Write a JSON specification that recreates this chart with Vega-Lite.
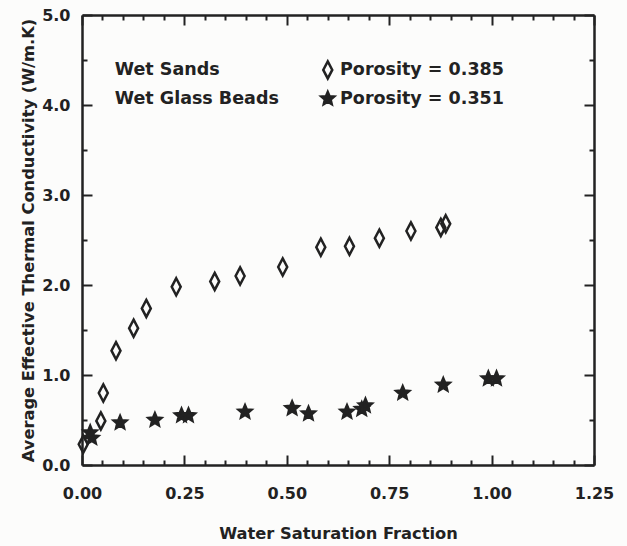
{
  "$schema": "https://vega.github.io/schema/vega-lite/v6.json",
  "width": 512,
  "height": 450,
  "autosize": {"type": "none"},
  "padding": {"left": 82, "top": 15, "right": 33, "bottom": 81},
  "background": "#fcfcfb",
  "config": {
    "view": {"stroke": null},
    "font": "DejaVu Sans",
    "axis": {
      "domainColor": "#222", "domainWidth": 2.5, "tickColor": "#222", "tickWidth": 2,
      "labelFont": "DejaVu Sans", "labelFontWeight": "bold", "labelFontSize": 16, "labelColor": "#222",
      "titleFont": "DejaVu Sans", "titleFontWeight": "bold", "titleFontSize": 16.3, "titleColor": "#222",
      "grid": false, "labelOverlap": false, "labelFlush": false
    }
  },
  "datasets": {
    "points": [
      {"material": "Wet Sands", "saturation": 0.003, "conductivity": 0.23},
      {"material": "Wet Sands", "saturation": 0.046, "conductivity": 0.49},
      {"material": "Wet Sands", "saturation": 0.052, "conductivity": 0.80},
      {"material": "Wet Sands", "saturation": 0.083, "conductivity": 1.27},
      {"material": "Wet Sands", "saturation": 0.126, "conductivity": 1.52},
      {"material": "Wet Sands", "saturation": 0.157, "conductivity": 1.74},
      {"material": "Wet Sands", "saturation": 0.23, "conductivity": 1.98},
      {"material": "Wet Sands", "saturation": 0.324, "conductivity": 2.04},
      {"material": "Wet Sands", "saturation": 0.386, "conductivity": 2.10},
      {"material": "Wet Sands", "saturation": 0.49, "conductivity": 2.20},
      {"material": "Wet Sands", "saturation": 0.583, "conductivity": 2.42},
      {"material": "Wet Sands", "saturation": 0.653, "conductivity": 2.43},
      {"material": "Wet Sands", "saturation": 0.726, "conductivity": 2.52},
      {"material": "Wet Sands", "saturation": 0.803, "conductivity": 2.60},
      {"material": "Wet Sands", "saturation": 0.876, "conductivity": 2.64},
      {"material": "Wet Sands", "saturation": 0.888, "conductivity": 2.68},
      {"material": "Wet Glass Beads", "saturation": 0.02, "conductivity": 0.36},
      {"material": "Wet Glass Beads", "saturation": 0.024, "conductivity": 0.30},
      {"material": "Wet Glass Beads", "saturation": 0.093, "conductivity": 0.47},
      {"material": "Wet Glass Beads", "saturation": 0.178, "conductivity": 0.50},
      {"material": "Wet Glass Beads", "saturation": 0.243, "conductivity": 0.55},
      {"material": "Wet Glass Beads", "saturation": 0.26, "conductivity": 0.55},
      {"material": "Wet Glass Beads", "saturation": 0.398, "conductivity": 0.59},
      {"material": "Wet Glass Beads", "saturation": 0.513, "conductivity": 0.63},
      {"material": "Wet Glass Beads", "saturation": 0.553, "conductivity": 0.57},
      {"material": "Wet Glass Beads", "saturation": 0.647, "conductivity": 0.59},
      {"material": "Wet Glass Beads", "saturation": 0.683, "conductivity": 0.62},
      {"material": "Wet Glass Beads", "saturation": 0.692, "conductivity": 0.66},
      {"material": "Wet Glass Beads", "saturation": 0.783, "conductivity": 0.80},
      {"material": "Wet Glass Beads", "saturation": 0.882, "conductivity": 0.89},
      {"material": "Wet Glass Beads", "saturation": 0.992, "conductivity": 0.96},
      {"material": "Wet Glass Beads", "saturation": 1.012, "conductivity": 0.96}
    ],
    "keysym": [
      {"material": "Wet Sands", "saturation": 0.60, "conductivity": 4.39},
      {"material": "Wet Glass Beads", "saturation": 0.60, "conductivity": 4.07}
    ],
    "keytext": [
      {"label": "Wet Sands", "saturation": 0.08, "conductivity": 4.39},
      {"label": "Wet Glass Beads", "saturation": 0.08, "conductivity": 4.07},
      {"label": "Porosity = 0.385", "saturation": 0.63, "conductivity": 4.39},
      {"label": "Porosity = 0.351", "saturation": 0.63, "conductivity": 4.07}
    ]
  },
  "layer": [
    {
      "data": {"name": "points"},
      "mark": {"type": "point", "filled": true, "strokeWidth": 2.5, "size": 324, "opacity": 1},
      "encoding": {
        "x": {
          "field": "saturation", "type": "quantitative",
          "scale": {"domain": [0, 1.25], "nice": false, "zero": false},
          "axis": {
            "orient": "bottom", "title": "Water Saturation Fraction",
            "values": [0,0.05,0.1,0.15,0.2,0.25,0.3,0.35,0.4,0.45,0.5,0.55,0.6,0.65,0.7,0.75,0.8,0.85,0.9,0.95,1,1.05,1.1,1.15,1.2,1.25],
            "labelExpr": "abs(datum.value*4 - round(datum.value*4)) < 0.001 ? format(datum.value, '.2f') : ''",
            "tickSize": {"condition": {"test": "abs(datum.value*4 - round(datum.value*4)) < 0.001", "value": -10}, "value": -5},
            "labelPadding": 30, "titlePadding": 19
          }
        },
        "y": {
          "field": "conductivity", "type": "quantitative",
          "scale": {"domain": [0, 5], "nice": false, "zero": false},
          "axis": {
            "orient": "left", "title": "Average Effective Thermal Conductivity (W/m.K)",
            "values": [0,0.5,1,1.5,2,2.5,3,3.5,4,4.5,5],
            "labelExpr": "abs(datum.value - round(datum.value)) < 0.001 ? format(datum.value, '.1f') : ''",
            "tickSize": {"condition": {"test": "abs(datum.value - round(datum.value)) < 0.001", "value": -10}, "value": -5},
            "labelPadding": 22, "titlePadding": 5
          }
        },
        "shape": {
          "field": "material", "type": "nominal",
          "scale": {"domain": ["Wet Sands", "Wet Glass Beads"], "range": ["M0,-0.95L0.5,0L0,0.95L-0.5,0Z", "M0,-0.75L0.199,-0.273L0.713,-0.232L0.321,0.104L0.441,0.607L0,0.338L-0.441,0.607L-0.321,0.104L-0.713,-0.232L-0.199,-0.273Z"]},
          "legend": null
        },
        "fill": {
          "field": "material", "type": "nominal",
          "scale": {"domain": ["Wet Sands", "Wet Glass Beads"], "range": ["transparent", "#222222"]},
          "legend": null
        },
        "stroke": {"value": "#222222"}
      }
    },
    {
      "data": {"name": "keysym"},
      "mark": {"type": "point", "filled": true, "strokeWidth": 2.5, "size": 324, "opacity": 1},
      "encoding": {
        "x": {
          "field": "saturation", "type": "quantitative",
          "scale": {"domain": [0, 1.25], "nice": false, "zero": false},
          "axis": {
            "orient": "top", "title": null, "labels": false,
            "values": [0,0.05,0.1,0.15,0.2,0.25,0.3,0.35,0.4,0.45,0.5,0.55,0.6,0.65,0.7,0.75,0.8,0.85,0.9,0.95,1,1.05,1.1,1.15,1.2,1.25],
            "tickSize": {"condition": {"test": "abs(datum.value*4 - round(datum.value*4)) < 0.001", "value": -10}, "value": -5}
          }
        },
        "y": {
          "field": "conductivity", "type": "quantitative",
          "scale": {"domain": [0, 5], "nice": false, "zero": false},
          "axis": {
            "orient": "right", "title": null, "labels": false,
            "values": [0,0.5,1,1.5,2,2.5,3,3.5,4,4.5,5],
            "tickSize": {"condition": {"test": "abs(datum.value - round(datum.value)) < 0.001", "value": -10}, "value": -5}
          }
        },
        "shape": {
          "field": "material", "type": "nominal",
          "scale": {"domain": ["Wet Sands", "Wet Glass Beads"], "range": ["M0,-0.95L0.5,0L0,0.95L-0.5,0Z", "M0,-0.75L0.199,-0.273L0.713,-0.232L0.321,0.104L0.441,0.607L0,0.338L-0.441,0.607L-0.321,0.104L-0.713,-0.232L-0.199,-0.273Z"]},
          "legend": null
        },
        "fill": {
          "field": "material", "type": "nominal",
          "scale": {"domain": ["Wet Sands", "Wet Glass Beads"], "range": ["transparent", "#222222"]},
          "legend": null
        },
        "stroke": {"value": "#222222"}
      }
    },
    {
      "data": {"name": "keytext"},
      "mark": {"type": "text", "align": "left", "baseline": "middle", "font": "DejaVu Sans", "fontWeight": "bold", "fontSize": 17.5, "color": "#222222"},
      "encoding": {
        "x": {"field": "saturation", "type": "quantitative", "scale": {"domain": [0, 1.25], "nice": false, "zero": false}, "axis": null},
        "y": {"field": "conductivity", "type": "quantitative", "scale": {"domain": [0, 5], "nice": false, "zero": false}, "axis": null},
        "text": {"field": "label", "type": "nominal"}
      }
    }
  ],
  "resolve": {"axis": {"x": "independent", "y": "independent"}}
}
